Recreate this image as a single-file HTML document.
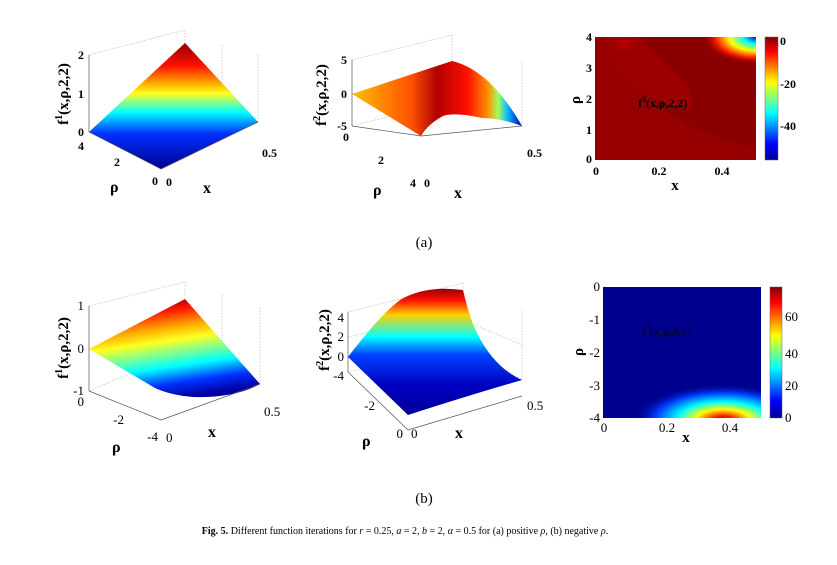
<!DOCTYPE html>
<html><head><meta charset="utf-8"><style>
body{margin:0;background:#fff;}
svg text{font-family:"Liberation Serif",serif;}
</style></head><body>
<svg width="837" height="560" viewBox="0 0 837 560" xmlns="http://www.w3.org/2000/svg">
<defs>
<clipPath id="c1"><rect x="595" y="37" width="161" height="123"/></clipPath>
<clipPath id="c2"><rect x="603" y="287" width="158" height="131"/></clipPath>
<linearGradient id="jetV" x1="0" y1="0" x2="0" y2="1">
<stop offset="0" stop-color="#800000"/><stop offset="0.12" stop-color="#ff0000"/><stop offset="0.37" stop-color="#ffff00"/><stop offset="0.62" stop-color="#00ffff"/><stop offset="0.87" stop-color="#0000ff"/><stop offset="1" stop-color="#00008f"/>
</linearGradient>
<linearGradient id="g1" gradientUnits="userSpaceOnUse" x1="0" y1="43" x2="0" y2="169">
<stop offset="0" stop-color="#900000"/><stop offset="0.18" stop-color="#ff1000"/><stop offset="0.34" stop-color="#ffc000"/><stop offset="0.4" stop-color="#ffff20"/><stop offset="0.55" stop-color="#00ffff"/><stop offset="0.72" stop-color="#0030ff"/><stop offset="1" stop-color="#000090"/>
</linearGradient>
<linearGradient id="g2" gradientUnits="userSpaceOnUse" x1="352" y1="0" x2="522" y2="0">
<stop offset="0" stop-color="#ffc000"/><stop offset="0.35" stop-color="#ff5000"/><stop offset="0.5" stop-color="#b00000"/><stop offset="0.68" stop-color="#ff1000"/><stop offset="0.8" stop-color="#ff9000"/><stop offset="0.86" stop-color="#a0ff60"/><stop offset="0.92" stop-color="#00b0ff"/><stop offset="1" stop-color="#0000b0"/>
</linearGradient>
<linearGradient id="g3" gradientUnits="userSpaceOnUse" x1="185" y1="295" x2="200" y2="395">
<stop offset="0" stop-color="#900000"/><stop offset="0.12" stop-color="#ff1000"/><stop offset="0.3" stop-color="#ffb000"/><stop offset="0.42" stop-color="#ffff20"/><stop offset="0.68" stop-color="#00ffff"/><stop offset="0.85" stop-color="#0030ff"/><stop offset="1" stop-color="#0000a0"/>
</linearGradient>
<linearGradient id="g4" gradientUnits="userSpaceOnUse" x1="0" y1="288" x2="0" y2="410">
<stop offset="0" stop-color="#900000"/><stop offset="0.1" stop-color="#ff1000"/><stop offset="0.22" stop-color="#ffd000"/><stop offset="0.4" stop-color="#00ffff"/><stop offset="0.55" stop-color="#0040ff"/><stop offset="0.8" stop-color="#0000c0"/><stop offset="1" stop-color="#0000a0"/>
</linearGradient>
<radialGradient id="h1" gradientUnits="userSpaceOnUse" cx="757" cy="37" r="50" gradientTransform="translate(757 37) scale(1.1 0.55) translate(-757 -37)">
<stop offset="0" stop-color="#0000c0"/><stop offset="0.25" stop-color="#00ffff"/><stop offset="0.5" stop-color="#ffff00"/><stop offset="0.75" stop-color="#ff2000"/><stop offset="1" stop-color="#8a0000" stop-opacity="0"/>
</radialGradient>
<radialGradient id="h2" gradientUnits="userSpaceOnUse" cx="723" cy="420" r="60" gradientTransform="translate(723 420) scale(1.5 0.6) translate(-723 -420)">
<stop offset="0" stop-color="#a00000"/><stop offset="0.12" stop-color="#ff2000"/><stop offset="0.3" stop-color="#ffff00"/><stop offset="0.5" stop-color="#00ffff"/><stop offset="0.75" stop-color="#0040ff"/><stop offset="1" stop-color="#00008f" stop-opacity="0"/>
</radialGradient>
<radialGradient id="h3" cx="0.5" cy="0.5" r="0.5">
<stop offset="0" stop-color="#c00000"/><stop offset="1" stop-color="#8a0000" stop-opacity="0"/>
</radialGradient>
</defs>

<!-- Plot 1 -->
<g stroke="#bbb" stroke-width="0.7" stroke-dasharray="1.5,1.5" fill="none">
<path d="M89 55 L185 30 M185 30 L185 100 M185 100 L258 122 M185 100 L89 132 M258 122 L258 55 M222 45 L222 110"/>
</g>
<polygon points="89,132 185,43 258,122 161,169" fill="url(#g1)"/>
<path d="M89 55 L89 132 M89 132 L161 169 M161 169 L258 122" stroke="#555" stroke-width="0.7" fill="none"/>
<g font-size="12" font-weight="bold" text-anchor="end">
<text x="84" y="59">2</text><text x="84" y="98">1</text><text x="84" y="136">0</text>
<text x="84" y="150">4</text><text x="120" y="166">2</text><text x="158" y="185">0</text>
</g>
<g font-size="12" font-weight="bold"><text x="166" y="186">0</text><text x="262" y="157">0.5</text></g>
<text x="110" y="192" font-size="16" font-family="Liberation Sans,sans-serif" font-weight="bold">ρ</text>
<text x="203" y="193" font-size="16" font-weight="bold">x</text>
<text transform="translate(68 94) rotate(-90)" text-anchor="middle" font-size="15" font-weight="bold">f<tspan font-size="10" dy="-6">1</tspan><tspan dy="6">(x,ρ,2,2)</tspan></text>

<!-- Plot 2 -->
<g stroke="#bbb" stroke-width="0.7" stroke-dasharray="1.5,1.5" fill="none">
<path d="M352 60 L452 35 M452 35 L452 100 M452 100 L522 126 M452 100 L352 126 M522 126 L522 60 M352 94 L452 68"/>
</g>
<path d="M352 94 L452 61 Q490 70 522 126 Q500 118 482 118 Q455 112 443 116 Q428 124 421 136 Z" fill="url(#g2)"/>
<path d="M352 60 L352 126 M352 126 L421 136 M421 136 L522 126" stroke="#555" stroke-width="0.7" fill="none"/>
<g font-size="12" font-weight="bold" text-anchor="end">
<text x="347" y="64">5</text><text x="347" y="98">0</text><text x="347" y="130">-5</text>
<text x="349" y="141">0</text><text x="384" y="164">2</text><text x="416" y="187">4</text>
</g>
<g font-size="12" font-weight="bold"><text x="424" y="187">0</text><text x="527" y="157">0.5</text></g>
<text x="373" y="195" font-size="16" font-family="Liberation Sans,sans-serif" font-weight="bold">ρ</text>
<text x="454" y="198" font-size="16" font-weight="bold">x</text>
<text transform="translate(326 95) rotate(-90)" text-anchor="middle" font-size="15" font-weight="bold">f<tspan font-size="10" dy="-6">2</tspan><tspan dy="6">(x,ρ,2,2)</tspan></text>

<!-- Heatmap 1 -->
<g clip-path="url(#c1)">
<rect x="595" y="37" width="161" height="123" fill="#8a0000"/>
<path d="M595 37 L595 160 L756 160 L756 148 Q660 128 630 70 L615 37 Z" fill="#960000"/>
<path d="M605 37 Q618 95 690 110 Q700 90 660 60 L640 37 Z" fill="#9c0000"/>
<ellipse cx="625" cy="45" rx="18" ry="14" fill="url(#h3)"/>
<rect x="595" y="37" width="161" height="123" fill="url(#h1)"/>
</g>
<rect x="765" y="37" width="13" height="123" fill="url(#jetV)" stroke="#666" stroke-width="0.5"/>
<text x="638" y="107" font-size="12" font-weight="bold">f<tspan font-size="8" dy="-5">3</tspan><tspan dy="5">(x,ρ,2,2)</tspan></text>
<g font-size="12" font-weight="bold" text-anchor="end">
<text x="592" y="41">4</text><text x="592" y="72">3</text><text x="592" y="103">2</text><text x="592" y="134">1</text><text x="592" y="163">0</text>
</g>
<g font-size="12" font-weight="bold" text-anchor="middle"><text x="596" y="175">0</text><text x="659" y="175">0.2</text><text x="722" y="175">0.4</text></g>
<g font-size="12" font-weight="bold"><text x="780" y="45">0</text><text x="780" y="88">-20</text><text x="780" y="130">-40</text></g>
<text x="675" y="190" font-size="15" font-weight="bold" text-anchor="middle">x</text>
<text transform="translate(580 100) rotate(-90)" text-anchor="middle" font-size="15" font-weight="bold" font-family="Liberation Sans,sans-serif">ρ</text>

<text x="424" y="247" font-size="15" text-anchor="middle">(a)</text>

<!-- Plot 3 -->
<g stroke="#bbb" stroke-width="0.7" stroke-dasharray="1.5,1.5" fill="none">
<path d="M89 306 L185 282 M185 282 L185 350 M185 350 L260 384 M185 350 L89 391 M260 384 L260 306 M222 295 L222 370 M89 349 L185 320"/>
</g>
<path d="M89 349 L185 299 L260 384 Q235 398 193 397 Q170 395 155 388 Z" fill="url(#g3)"/>
<path d="M89 306 L89 391 M89 391 L161 420 M161 420 L260 384" stroke="#555" stroke-width="0.7" fill="none"/>
<g font-size="13" text-anchor="end">
<text x="84" y="310">1</text><text x="84" y="353">0</text><text x="84" y="395">-1</text>
<text x="84" y="406">0</text><text x="124" y="424">-2</text><text x="158" y="441">-4</text>
</g>
<g font-size="13"><text x="166" y="442">0</text><text x="264" y="416">0.5</text></g>
<text x="112" y="452" font-size="16" font-family="Liberation Sans,sans-serif" font-weight="bold">ρ</text>
<text x="208" y="437" font-size="16" font-weight="bold">x</text>
<text transform="translate(68 348) rotate(-90)" text-anchor="middle" font-size="15" font-weight="bold">f<tspan font-size="10" dy="-6">1</tspan><tspan dy="6">(x,ρ,2,2)</tspan></text>

<!-- Plot 4 -->
<g stroke="#bbb" stroke-width="0.7" stroke-dasharray="1.5,1.5" fill="none">
<path d="M348 312 L463 283 M463 283 L463 345 M463 345 L522 380 M463 345 L348 372 M522 380 L522 310 M348 337 L463 310 M463 320 L522 345"/>
</g>
<path d="M348 357 Q380 315 400 300 Q425 285 463 290 Q470 320 478 335 Q495 368 522 380 Q470 395 408 415 Z" fill="url(#g4)"/>
<path d="M348 312 L348 372 M348 372 L408 430 M408 430 L522 396" stroke="#555" stroke-width="0.7" fill="none"/>
<g font-size="13" text-anchor="end">
<text x="344" y="322">4</text><text x="344" y="341">2</text><text x="344" y="361">0</text><text x="344" y="380">-4</text>
<text x="375" y="410">-2</text><text x="403" y="438">0</text>
</g>
<g font-size="13"><text x="411" y="438">0</text><text x="527" y="410">0.5</text></g>
<text x="362" y="446" font-size="16" font-family="Liberation Sans,sans-serif" font-weight="bold">ρ</text>
<text x="455" y="438" font-size="16" font-weight="bold">x</text>
<text transform="translate(329 340) rotate(-90)" text-anchor="middle" font-size="15" font-weight="bold">f<tspan font-size="10" dy="-6">2</tspan><tspan dy="6">(x,ρ,2,2)</tspan></text>

<!-- Heatmap 2 -->
<g clip-path="url(#c2)">
<rect x="603" y="287" width="158" height="131" fill="#00008f"/>
<rect x="603" y="287" width="158" height="131" fill="url(#h2)"/>
</g>
<rect x="770" y="287" width="12" height="131" fill="url(#jetV)" stroke="#666" stroke-width="0.5"/>
<text x="642" y="335" font-size="12">f<tspan font-size="8" dy="-5">3</tspan><tspan dy="5">(x,ρ,2,2)</tspan></text>
<g font-size="13" text-anchor="end">
<text x="600" y="291">0</text><text x="600" y="324">-1</text><text x="600" y="357">-2</text><text x="600" y="390">-3</text><text x="600" y="422">-4</text>
</g>
<g font-size="13" text-anchor="middle"><text x="604" y="432">0</text><text x="667" y="432">0.2</text><text x="730" y="432">0.4</text></g>
<g font-size="13"><text x="785" y="422">0</text><text x="785" y="390">20</text><text x="785" y="358">40</text><text x="785" y="321">60</text></g>
<text x="686" y="442" font-size="15" font-weight="bold" text-anchor="middle">x</text>
<text transform="translate(583 352) rotate(-90)" text-anchor="middle" font-size="15" font-weight="bold" font-family="Liberation Sans,sans-serif">ρ</text>

<text x="424" y="503" font-size="15" text-anchor="middle">(b)</text>
<text x="405" y="534" font-size="10" text-anchor="middle" font-family="Liberation Sans,sans-serif"><tspan font-weight="bold">Fig. 5.</tspan> Different function iterations for <tspan font-style="italic" font-family="Liberation Serif,serif">r</tspan> = 0.25, <tspan font-style="italic" font-family="Liberation Serif,serif">a</tspan> = 2, <tspan font-style="italic" font-family="Liberation Serif,serif">b</tspan> = 2, <tspan font-style="italic" font-family="Liberation Serif,serif">α</tspan> = 0.5 for (a) positive <tspan font-style="italic" font-family="Liberation Serif,serif">ρ</tspan>, (b) negative <tspan font-style="italic" font-family="Liberation Serif,serif">ρ</tspan>.</text>
</svg>
</body></html>
